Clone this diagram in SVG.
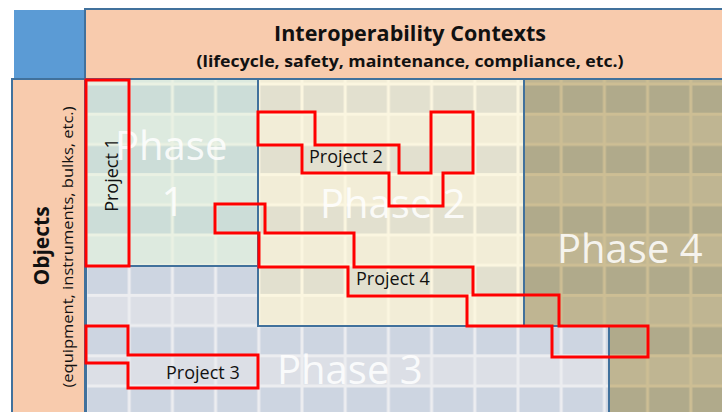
<svg xmlns="http://www.w3.org/2000/svg" width="722" height="412" viewBox="0 0 722 412">
<style>
.border{stroke:#41719C;stroke-width:2}
.phase{font-family:"Open Sans","Liberation Sans",sans-serif;font-size:40px;fill:#FFFFFF;fill-opacity:0.85}
.proj{fill:none;stroke:#FF0000;stroke-width:3;stroke-linejoin:miter}
.plabel{font-family:"Open Sans","Liberation Sans",sans-serif;font-size:18px;fill:#111111}
.hdr{font-family:"Open Sans","Liberation Sans",sans-serif;font-weight:bold;fill:#111111;text-anchor:middle}
.side{font-family:"Open Sans","Liberation Sans",sans-serif;fill:#111111;text-anchor:middle}
</style>
<defs>
<pattern id="g1" patternUnits="userSpaceOnUse" x="86" y="84" width="43.2" height="60.4">
<rect width="43.2" height="30.2" fill="#CCDDD8"/><rect y="30.2" width="43.2" height="30.2" fill="#DDEADF"/>
<rect width="1.5" height="60.4" fill="#EAF1E3"/><rect x="41.7" width="1.5" height="60.4" fill="#EAF1E3"/>
<rect width="43.2" height="1.5" fill="#EAF1E3"/><rect y="28.7" width="43.2" height="3" fill="#EAF1E3"/><rect y="58.9" width="43.2" height="1.5" fill="#EAF1E3"/>
</pattern>
<pattern id="g2" patternUnits="userSpaceOnUse" x="86" y="84" width="43.2" height="60.4">
<rect width="43.2" height="30.2" fill="#E2E0CF"/><rect y="30.2" width="43.2" height="30.2" fill="#F2EDD7"/>
<rect width="1.5" height="60.4" fill="#FBF6E0"/><rect x="41.7" width="1.5" height="60.4" fill="#FBF6E0"/>
<rect width="43.2" height="1.5" fill="#FBF6E0"/><rect y="28.7" width="43.2" height="3" fill="#FBF6E0"/><rect y="58.9" width="43.2" height="1.5" fill="#FBF6E0"/>
</pattern>
<pattern id="g3" patternUnits="userSpaceOnUse" x="86" y="84" width="43.2" height="60.4">
<rect width="43.2" height="30.2" fill="#CDD5E1"/><rect y="30.2" width="43.2" height="30.2" fill="#DCDFE6"/>
<rect width="1.5" height="60.4" fill="#ECEDF0"/><rect x="41.7" width="1.5" height="60.4" fill="#ECEDF0"/>
<rect width="43.2" height="1.5" fill="#ECEDF0"/><rect y="28.7" width="43.2" height="3" fill="#ECEDF0"/><rect y="58.9" width="43.2" height="1.5" fill="#ECEDF0"/>
</pattern>
<pattern id="g4" patternUnits="userSpaceOnUse" x="86" y="84" width="43.2" height="60.4">
<rect width="43.2" height="30.2" fill="#B0AA8B"/><rect y="30.2" width="43.2" height="30.2" fill="#BFB592"/>
<rect width="1.5" height="60.4" fill="#CDBE94"/><rect x="41.7" width="1.5" height="60.4" fill="#CDBE94"/>
<rect width="43.2" height="1.5" fill="#CDBE94"/><rect y="28.7" width="43.2" height="3" fill="#CDBE94"/><rect y="58.9" width="43.2" height="1.5" fill="#CDBE94"/>
</pattern>
</defs>
<rect width="722" height="412" fill="#FFFFFF"/>
<g id="corner"><rect x="14" y="10" width="71" height="69" fill="#5B9BD5"/></g>
<g id="header">
<rect x="85" y="9" width="640" height="70" fill="#F8CBAD" class="border"/>
<text class="hdr" x="410" y="41" font-size="21" textLength="272" lengthAdjust="spacingAndGlyphs">Interoperability Contexts</text>
<text class="hdr" x="410" y="67" font-size="16" textLength="427" lengthAdjust="spacingAndGlyphs">(lifecycle, safety, maintenance, compliance, etc.)</text>
</g>
<g id="objects">
<rect x="12" y="79" width="73" height="340" fill="#F8CBAD" class="border"/>
<text class="side" transform="translate(49,246) rotate(-90)" font-size="21" font-weight="bold">Objects</text>
<text class="side" transform="translate(73,247) rotate(-90)" font-size="15" textLength="281" lengthAdjust="spacingAndGlyphs">(equipment, instruments, bulks, etc.)</text>
</g>
<g id="phase4">
<rect x="524" y="79" width="202" height="340" fill="url(#g4)" class="border"/>
<text class="phase" x="557" y="263">Phase 4</text>
</g>
<g id="phase3">
<polygon points="86,266 258,266 258,326 609,326 609,419 86,419" fill="url(#g3)" class="border"/>
<text class="phase" x="277" y="384">Phase 3</text>
</g>
<g id="phase1">
<rect x="86" y="79" width="172" height="187" fill="url(#g1)" class="border"/>
<text class="phase" x="115" y="160">Phase</text>
<text class="phase" x="173" y="216" text-anchor="middle">1</text>
</g>
<g id="phase2">
<rect x="258" y="79" width="266" height="247" fill="url(#g2)" class="border"/>
<text class="phase" x="320" y="218">Phase 2</text>
</g>
<g id="project1">
<rect class="proj" x="86" y="80" width="43" height="186"/>
<text class="plabel" transform="translate(118,175) rotate(-90)" text-anchor="middle">Project 1</text>
</g>
<g id="project2">
<polygon class="proj" points="258,112 315,112 315,145 399,145 399,173 431,173 431,112 473,112 473,173 443,173 443,206 389,206 389,173 302,173 302,145 258,145"/>
<text class="plabel" x="309" y="163">Project 2</text>
</g>
<g id="project3">
<polygon class="proj" points="86,326 128,326 128,355 258,355 258,388 128,388 128,363 86,363"/>
<text class="plabel" x="166" y="379">Project 3</text>
</g>
<g id="project4">
<polygon class="proj" points="215,204 265,204 265,233 354,233 354,267 473,267 473,295 559,295 559,326 648,326 648,357 552,357 552,326 467,326 467,296 348,296 348,267 259,267 259,233 215,233"/>
<text class="plabel" x="356" y="285">Project 4</text>
</g>
<g id="connectors"/>
</svg>
